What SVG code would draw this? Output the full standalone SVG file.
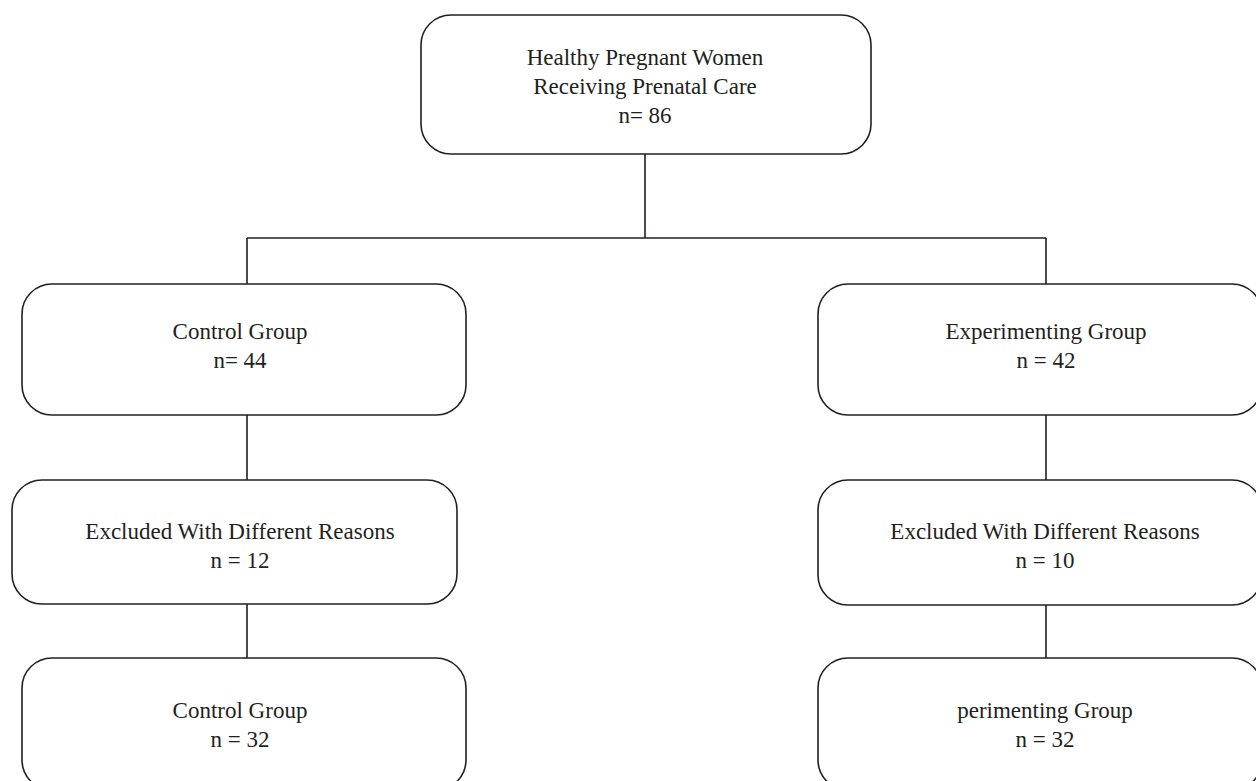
<svg xmlns="http://www.w3.org/2000/svg" width="1256" height="781" viewBox="0 0 1256 781">
<style>
.box{fill:#fff;stroke:#231f20;stroke-width:1.6}
.ln{stroke:#231f20;stroke-width:1.6;fill:none}
text{font-family:"Liberation Serif","Times New Roman",serif;font-size:23px;fill:#231f20;text-anchor:middle}
</style>
<rect width="1256" height="781" fill="#fff"/>
<g id="connectors">
<path class="ln" d="M645 154V238M247 238H1046M247 238V284M1046 238V284M247 415V480M1046 415V480M247 604V658M1046 605V658"/>
</g>
<g id="top"><rect class="box" x="421" y="15" width="450" height="139" rx="30"/>
<text x="645" y="65">Healthy Pregnant Women</text><text x="645" y="94">Receiving Prenatal Care</text><text x="645" y="123">n= 86</text></g>
<g id="control1"><rect class="box" x="22" y="284" width="444" height="131" rx="30"/>
<text x="240" y="339">Control Group</text><text x="240" y="368">n= 44</text></g>
<g id="exp1"><rect class="box" x="818" y="284" width="444" height="131" rx="30"/>
<text x="1046" y="339">Experimenting Group</text><text x="1046" y="368">n = 42</text></g>
<g id="excl1"><rect class="box" x="12" y="480" width="445" height="124" rx="30"/>
<text x="240" y="539">Excluded With Different Reasons</text><text x="240" y="568">n = 12</text></g>
<g id="excl2"><rect class="box" x="818" y="480" width="444" height="125" rx="30"/>
<text x="1045" y="539">Excluded With Different Reasons</text><text x="1045" y="568">n = 10</text></g>
<g id="control2"><rect class="box" x="22" y="658" width="444" height="132" rx="30"/>
<text x="240" y="718">Control Group</text><text x="240" y="747">n = 32</text></g>
<g id="exp2"><rect class="box" x="818" y="658" width="444" height="132" rx="30"/>
<text x="1045" y="718">perimenting Group</text><text x="1045" y="747">n = 32</text></g>
</svg>
